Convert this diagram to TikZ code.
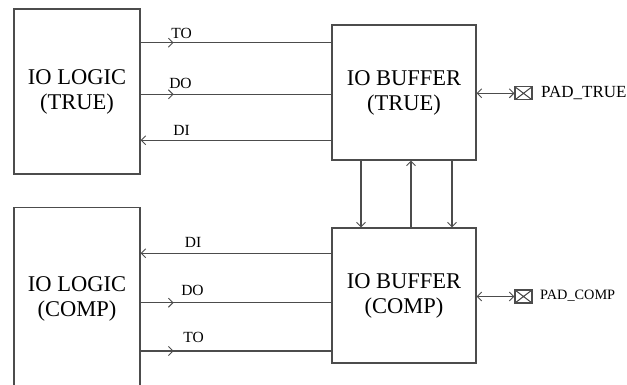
\documentclass[tikz,border=0pt]{standalone}
\usepackage{fontspec}
\setmainfont{Liberation Serif}
\usetikzlibrary{decorations.markings, arrows.meta}
\tikzset{
  wire/.style={draw=black!70, line width=1.1pt},
  barb/.tip={Straight Barb[length=4.5pt, width=9pt, line width=0.9pt]},
  box/.style={wire, rectangle, inner sep=0pt, align=center,
    font=\fontsize{22.5}{25}\selectfont},
  sig/.style={inner sep=0pt, font=\fontsize{15.5}{17}\selectfont},
  padbox/.style={wire, rectangle, inner sep=0pt, minimum width=17pt, minimum height=13pt,
    path picture={\draw[black!75, line width=1pt]
      (path picture bounding box.south west) -- (path picture bounding box.north east)
      (path picture bounding box.north west) -- (path picture bounding box.south east);}},
  midarrow/.style={postaction={decorate, decoration={markings,
    mark=at position 33pt with {\arrow[black!70]{barb}}}}},
  tip/.style={-barb},
  bitip/.style={barb-barb},
}
\begin{document}
\begin{tikzpicture}[x=1pt, y=-1pt]
\useasboundingbox (0,0) rectangle (627,385);
\clip (0,0) rectangle (627,385);

% logic blocks
\node[box, minimum width=126pt, minimum height=165pt] (lt) at (77,91.5) {IO LOGIC\\(TRUE)};
\node[box, minimum width=126pt, minimum height=183pt] (lc) at (77,299) {IO LOGIC\\(COMP)};

% buffer blocks
\node[box, minimum width=144pt, minimum height=135pt] (bt) at (404,92.5) {IO BUFFER\\(TRUE)};
\node[box, minimum width=144pt, minimum height=135pt] (bc) at (404,295.5) {IO BUFFER\\(COMP)};

% pads
\node[padbox] (pt) at (523.5,93.3) {};
\node[padbox] (pc) at (523.5,296.5) {};
\node[anchor=west, inner sep=0pt, font=\fontsize{17}{19}\selectfont] (ptl) at (541,93.3) {PAD\_TRUE};
\node[anchor=west, inner sep=0pt, font=\fontsize{14.3}{16}\selectfont] (pcl) at (540,296) {PAD\_COMP};

% wire end points
\coordinate (lt1) at (lt.east |- 0,42.7);
\coordinate (lt2) at (lt.east |- 0,94.3);
\coordinate (lt3) at (lt.east |- 0,140.3);
\coordinate (lc1) at (lc.east |- 0,253.3);
\coordinate (lc2) at (lc.east |- 0,302.7);
\coordinate (lc3) at (lc.east |- 0,351);

% true side signals
\draw[wire, midarrow] (lt1) -- (bt.west |- lt1);
\draw[wire, midarrow] (lt2) -- (bt.west |- lt2);
\draw[wire, tip] (bt.west |- lt3) -- (lt3);
\node[sig] (tto) at (181.5,33) {TO};
\node[sig] (tdo) at (180.5,83.5) {DO};
\node[sig] (tdi) at (181.5,130) {DI};

% comp side signals
\draw[wire, tip] (bc.west |- lc1) -- (lc1);
\draw[wire, midarrow] (lc2) -- (bc.west |- lc2);
\draw[wire, midarrow] (lc3) -- (bc.west |- lc3);
\node[sig] (cdi) at (193,242.3) {DI};
\node[sig] (cdo) at (192.5,290.5) {DO};
\node[sig] (cto) at (193.5,337) {TO};

% links between the two buffers
\coordinate (v1) at (361,0);
\coordinate (v2) at (411,0);
\coordinate (v3) at (452,0);
\draw[wire, tip] (bt.south -| v1) -- (bc.north -| v1);
\draw[wire, tip] (bc.north -| v2) -- (bt.south -| v2);
\draw[wire, tip] (bt.south -| v3) -- (bc.north -| v3);

% pad connections
\draw[wire, bitip] (bt.east |- pt) -- (pt.west);
\draw[wire, bitip] (bc.east |- pc) -- (pc.west);
\end{tikzpicture}
\end{document}
